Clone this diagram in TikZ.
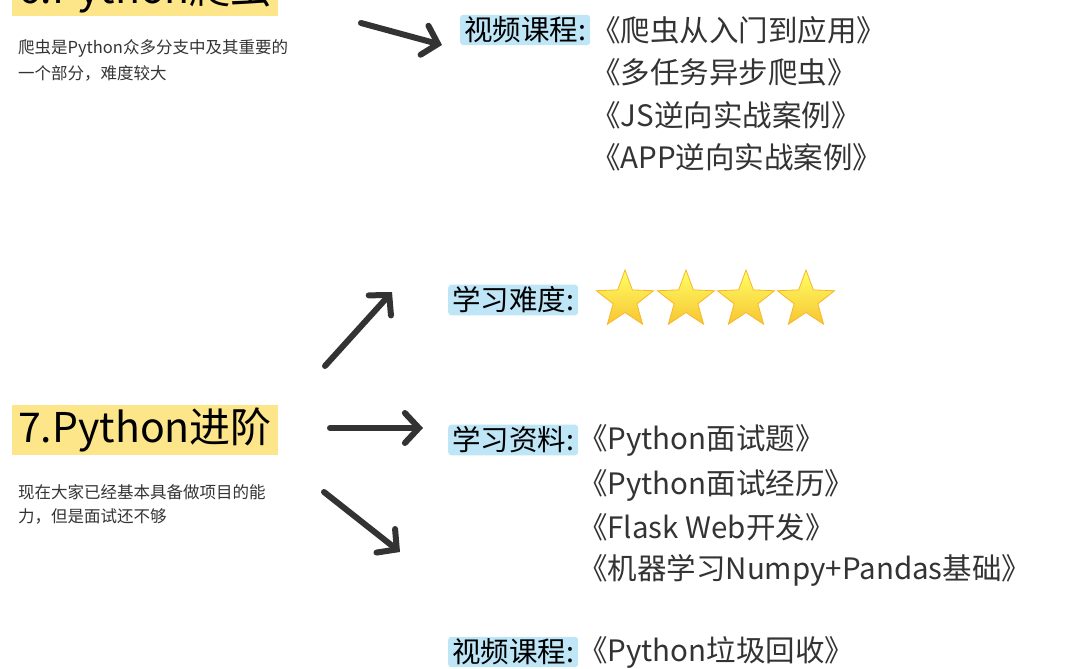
\documentclass[tikz,border=0pt]{standalone}
\usepackage{fontspec}
\setmainfont{Noto Sans CJK SC}
\usetikzlibrary{shapes.geometric,arrows.meta}
\definecolor{hlY}{HTML}{FDE68A}
\definecolor{hlB}{HTML}{BFE6F7}
\definecolor{ink}{HTML}{333333}
\definecolor{starY}{HTML}{F7C531}
\begin{document}
\begin{tikzpicture}[x=1pt,y=-1pt,
  title/.style={fill=hlY,inner xsep=6pt,inner ysep=3pt,anchor=west,font=\fontsize{41}{45}\selectfont,text=black},
  lab/.style={fill=hlB,rounded corners=3pt,inner xsep=4pt,inner ysep=2pt,anchor=west,font=\fontsize{28.5}{32}\selectfont,text=black},
  item/.style={anchor=west,font=\fontsize{29.5}{33}\selectfont,inner sep=0pt,text=ink},
  desc/.style={anchor=west,font=\fontsize{16.5}{20}\selectfont,inner sep=0pt,text=ink},
  arr/.style={draw=ink,line width=6pt,line cap=round,-{Straight Barb[length=14pt,width=30pt,line width=6pt,line cap=round]}},
  st/.style={star,star points=5,star point ratio=2.4,minimum size=60pt,inner sep=0pt,draw=starY!80!orange,line width=0.8pt,top color=yellow!60!white,bottom color=starY}
]
\useasboundingbox (0,0) rectangle (1080,669);
\begin{scope}
\clip (0,0) rectangle (1080,669);
\node[title] (t6) at (12,-9) {6.Python爬虫};
\node[desc] (d6a) at (18,48) {爬虫是Python众多分支中及其重要的};
\node[desc] (d6b) at (18,73) {一个部分，难度较大};
\coordinate (a1s) at (361,23);
\coordinate (a1e) at (442,45);
\draw[arr] (a1s) -- (a1e);
\node[lab] (l1) at (460,30) {视频课程:};
\node[item] (i1) at (591,30) {《爬虫从入门到应用》};
\node[item] (i2) at (591,72) {《多任务异步爬虫》};
\node[item] (i3) at (591,115) {《JS逆向实战案例》};
\node[item] (i4) at (591,157) {《APP逆向实战案例》};

\node[title] (t7) at (12,430) {7.Python进阶};
\node[desc] (d7a) at (18,492) {现在大家已经基本具备做项目的能};
\node[desc] (d7b) at (18,516) {力，但是面试还不够};
\coordinate (a2s) at (325,366);
\coordinate (a2e) at (392,292);
\coordinate (a3s) at (330,428);
\coordinate (a3e) at (423,428);
\coordinate (a4s) at (324,492);
\coordinate (a4e) at (400,552);
\draw[arr] (a2s) -- (a2e);
\draw[arr] (a3s) -- (a3e);
\draw[arr] (a4s) -- (a4e);
\node[lab] (l2) at (448,300) {学习难度:};
\node[st] (s1) at (625,300) {};
\node[st] (s2) at (686,300) {};
\node[st] (s3) at (746,300) {};
\node[st] (s4) at (806,300) {};
\node[lab] (l3) at (448,440) {学习资料:};
\node[item] (j1) at (578,440) {《Python面试题》};
\node[item] (j2) at (578,485) {《Python面试经历》};
\node[item] (j3) at (578,527) {《Flask Web开发》};
\node[item] (j4) at (578,570) {《机器学习Numpy+Pandas基础》};
\node[lab] (l4) at (448,652) {视频课程:};
\node[item] (k1) at (578,652) {《Python垃圾回收》};
\end{scope}
\end{tikzpicture}
\end{document}
